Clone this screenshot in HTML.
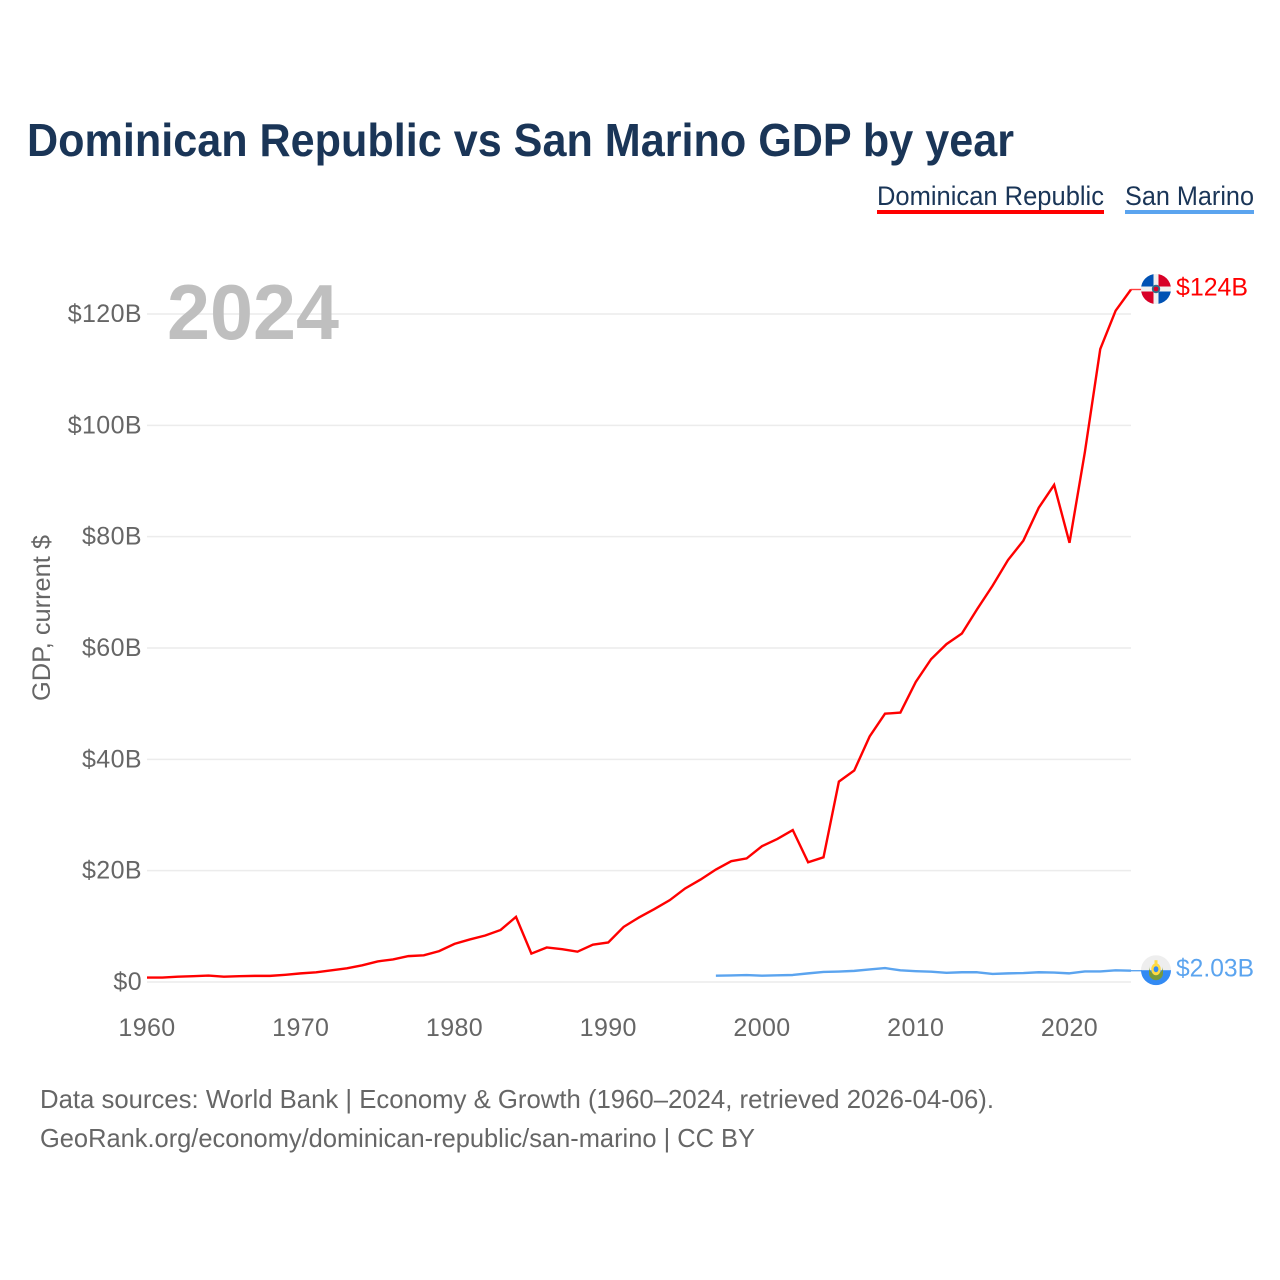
<!DOCTYPE html>
<html lang="en">
<head>
<meta charset="utf-8">
<title>Dominican Republic vs San Marino GDP by year</title>
<style>
html,body{margin:0;padding:0;background:#fff;width:1280px;height:1280px;overflow:hidden}
svg{display:block}
text{font-family:"Liberation Sans",sans-serif}
</style>
</head>
<body>
<svg id="chart" xmlns="http://www.w3.org/2000/svg" width="1280" height="1280" viewBox="0 0 1280 1280">
  <defs>
    <clipPath id="flag-clip"><circle cx="0" cy="0" r="15"></circle></clipPath>
  </defs>
  <text x="27" y="156" font-size="46" font-weight="700" fill="#1a3557" textLength="987" lengthAdjust="spacingAndGlyphs">Dominican Republic vs San Marino GDP by year</text>

  <g>
    <text x="877" y="205" font-size="27" fill="#1a3557" textLength="227" lengthAdjust="spacingAndGlyphs">Dominican Republic</text>
    <rect x="877" y="210" width="227" height="4" fill="#ff0000"></rect>
  </g>
  <g>
    <text x="1125" y="205" font-size="27" fill="#1a3557" textLength="129" lengthAdjust="spacingAndGlyphs">San Marino</text>
    <rect x="1125" y="210" width="129" height="4" fill="#5ba4ef"></rect>
  </g>

  <text transform="translate(50,618) rotate(-90)" text-anchor="middle" font-size="25" fill="#666666" textLength="166" lengthAdjust="spacingAndGlyphs">GDP, current $</text>

  <g id="grid"></g>
  <g id="y-ticks"></g>
  <g id="x-ticks"></g>

  <text x="167" y="339" font-size="78" font-weight="700" fill="#bfbfbf" textLength="172" lengthAdjust="spacingAndGlyphs">2024</text>

  <path id="line-dr" fill="none" stroke="#ff0000" stroke-width="2.4" stroke-linejoin="miter"></path>
  <path id="line-sm" fill="none" stroke="#5ba4ef" stroke-width="2.4" stroke-linejoin="round"></path>
  <line id="connector-dr" stroke="#ff0000" stroke-opacity="0.75" stroke-width="1.4"></line>
  <line id="connector-sm" stroke="#5ba4ef" stroke-width="1.4"></line>

  <g id="flag-dr">
    <g clip-path="url(#flag-clip)">
      <rect x="-15" y="-15" width="30" height="30" fill="#f0f0f0"></rect>
      <rect x="-15" y="-15" width="12.5" height="12.5" fill="#0052b4"></rect>
      <rect x="2.5" y="-15" width="12.5" height="12.5" fill="#d80027"></rect>
      <rect x="-15" y="2.5" width="12.5" height="12.5" fill="#d80027"></rect>
      <rect x="2.5" y="2.5" width="12.5" height="12.5" fill="#0052b4"></rect>
      <circle r="4.2" fill="#2f6f8a"></circle>
      <circle r="2.4" fill="#d80027"></circle>
    </g>
  </g>
  <g id="flag-sm">
    <g clip-path="url(#flag-clip)">
      <rect x="-15" y="-15" width="30" height="15" fill="#eeeeee"></rect>
      <rect x="-15" y="0" width="30" height="15" fill="#338af3"></rect>
      <path d="M-7 -4 A7 8 0 0 0 7 -4 L7 3 A7 7 0 0 1 -7 3 Z" fill="#7a9a3a"></path>
      <rect x="-1.5" y="-10" width="3" height="4" fill="#ffda44"></rect>
      <ellipse cx="0" cy="-1" rx="4.8" ry="6" fill="#ffda44"></ellipse>
      <ellipse cx="0" cy="-1" rx="2.4" ry="3" fill="#338af3"></ellipse>
    </g>
  </g>
  <text id="value-dr" x="1176" font-size="25" fill="#ff0000" textLength="72" lengthAdjust="spacingAndGlyphs">$124B</text>
  <text id="value-sm" x="1176" font-size="25" fill="#5ba4ef" textLength="78" lengthAdjust="spacingAndGlyphs">$2.03B</text>

  <text x="40" y="1108" font-size="26" fill="#666666" textLength="954" lengthAdjust="spacingAndGlyphs">Data sources: World Bank | Economy &amp; Growth (1960–2024, retrieved 2026-04-06).</text>
  <text x="40" y="1147" font-size="26" fill="#666666" textLength="715" lengthAdjust="spacingAndGlyphs">GeoRank.org/economy/dominican-republic/san-marino | CC BY</text>
</svg>
<script>
const startYearDR = 1960;
const startYearSM = 1997;
const gdpDominicanRepublic = [0.8,0.8,0.95,1.05,1.15,0.95,1.05,1.1,1.1,1.3,1.55,1.75,2.1,2.45,3.0,3.7,4.05,4.65,4.8,5.55,6.85,7.65,8.35,9.35,11.7,5.1,6.2,5.9,5.45,6.7,7.1,9.9,11.6,13.1,14.7,16.8,18.4,20.2,21.7,22.2,24.4,25.7,27.3,21.5,22.4,36.0,38.0,44.1,48.2,48.4,53.9,58.0,60.7,62.6,67.0,71.2,75.8,79.3,85.2,89.3,78.9,95.2,113.7,120.6,124.4];
const gdpSanMarino = [1.13,1.18,1.24,1.13,1.2,1.26,1.55,1.8,1.88,2.0,2.25,2.5,2.1,1.95,1.85,1.65,1.75,1.75,1.45,1.55,1.6,1.75,1.7,1.55,1.9,1.9,2.1,2.03];
const yTickValues = [0,20,40,60,80,100,120];
const yTickLabels = ["$0","$20B","$40B","$60B","$80B","$100B","$120B"];
const xTickYears = [1960,1970,1980,1990,2000,2010,2020];

const NS = "http://www.w3.org/2000/svg";
function xScale(year){ return 147 + (year - 1960) * (984 / 64); }
function yScale(v){ return 982 - v * (668 / 120); }
function linePath(values, startYear){
  return values.map(function(v,i){
    return (i ? "L" : "M") + xScale(startYear + i).toFixed(2) + " " + yScale(v).toFixed(2);
  }).join("");
}

const grid = document.getElementById("grid");
const yTicks = document.getElementById("y-ticks");
const xTicks = document.getElementById("x-ticks");

yTickValues.forEach(function(v,i){
  const ln = document.createElementNS(NS,"line");
  
  
  ln.setAttribute("x1", xScale(1960));
  ln.setAttribute("x2", xScale(2024));
  ln.setAttribute("y1", yScale(v));
  ln.setAttribute("y2", yScale(v));
  ln.setAttribute("stroke", "#ececec");
  ln.setAttribute("stroke-width", "1.5");
  grid.appendChild(ln);

  const t = document.createElementNS(NS,"text");
  
  
  t.setAttribute("x", 142);
  t.setAttribute("y", yScale(v) + 8);
  t.setAttribute("text-anchor", "end");
  t.setAttribute("font-size", "25");
  t.setAttribute("letter-spacing", "0.4");
  t.setAttribute("fill", "#666666");
  t.textContent = yTickLabels[i];
  yTicks.appendChild(t);
});

xTickYears.forEach(function(year){
  const t = document.createElementNS(NS,"text");
  
  
  t.setAttribute("x", xScale(year));
  t.setAttribute("y", 1036);
  t.setAttribute("text-anchor", "middle");
  t.setAttribute("font-size", "25");
  t.setAttribute("letter-spacing", "0.4");
  t.setAttribute("fill", "#666666");
  t.textContent = String(year);
  xTicks.appendChild(t);
});

document.getElementById("line-dr").setAttribute("d", linePath(gdpDominicanRepublic, startYearDR));
document.getElementById("line-sm").setAttribute("d", linePath(gdpSanMarino, startYearSM));

const lastDR = gdpDominicanRepublic[gdpDominicanRepublic.length - 1];
const lastSM = gdpSanMarino[gdpSanMarino.length - 1];
const lastX = xScale(2024);
function placeEnd(id, flagId, valueId, v, labelOffset){
  const c = document.getElementById(id);
  c.setAttribute("x1", lastX);
  c.setAttribute("x2", 1142);
  c.setAttribute("y1", yScale(v));
  c.setAttribute("y2", yScale(v));
  document.getElementById(flagId).setAttribute("transform", "translate(1156," + (yScale(v) - 0.5) + ")");
  document.getElementById(valueId).setAttribute("y", yScale(v) + labelOffset);
}
placeEnd("connector-dr", "flag-dr", "value-dr", lastDR, 6);
placeEnd("connector-sm", "flag-sm", "value-sm", lastSM, 6);
</script>
</body>
</html>
